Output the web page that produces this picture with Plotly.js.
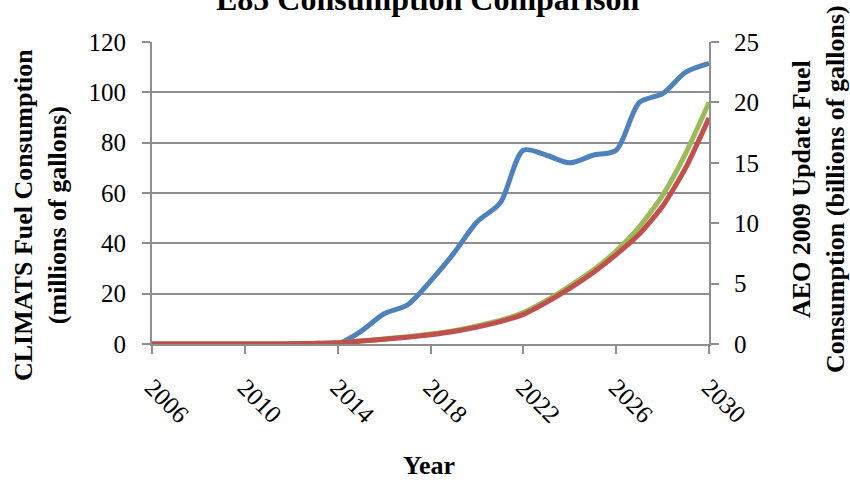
<!DOCTYPE html>
<html>
<head>
<meta charset="utf-8">
<script src="https://cdn.plot.ly/plotly-3.0.1.min.js"></script>
<style>html,body{margin:0;padding:0;background:#fff;}#chart{width:850px;height:482px;}</style>
</head>
<body>
<div id="chart"></div>
<script>
const years = [2006,2007,2008,2009,2010,2011,2012,2013,2014,2015,2016,2017,2018,2019,2020,2021,2022,2023,2024,2025,2026,2027,2028,2029,2030];
const climats = [0,0,0,0,0,0,0,0,0,5,12,15.5,25,36,48.5,56,77,75,72,75,77,96,99.5,108,111.5];
const aeoGreen = [0,0,0,0,0,0,0.02,0.05,0.1,0.25,0.42,0.6,0.82,1.1,1.5,1.95,2.6,3.6,4.8,6.1,7.7,9.7,12.3,15.8,20.0];
const aeoRed = [0,0,0,0,0,0,0.02,0.05,0.1,0.24,0.4,0.56,0.76,1.03,1.4,1.85,2.45,3.45,4.6,5.9,7.4,9.1,11.4,14.6,18.7];
const tickYears = [2006,2010,2014,2018,2022,2026,2030];

const chartTitle = 'E85 Consumption Comparison';
const xTitle = 'Year';
const yTitle = 'CLIMATS Fuel Consumption<br>(millions of gallons)';
const y2Title = 'AEO 2009 Update Fuel<br>Consumption (billions of gallons)';

const serif = "Liberation Serif, Times New Roman, serif";
const grid = "#8f8f8f";

const traces = [
  {x: years, y: aeoGreen, yaxis: 'y2', type: 'scatter', mode: 'lines', name: 'AEO 2009 (high)',
   line: {color: '#9BBB59', width: 5, shape: 'spline', smoothing: 0.6}},
  {x: years, y: aeoRed, yaxis: 'y2', type: 'scatter', mode: 'lines', name: 'AEO 2009',
   line: {color: '#C0504D', width: 5, shape: 'spline', smoothing: 0.6}},
  {x: years, y: climats, yaxis: 'y', type: 'scatter', mode: 'lines', name: 'CLIMATS',
   line: {color: '#4F81BD', width: 5, shape: 'spline', smoothing: 0.8}}
];

const layout = {
  width: 850, height: 482,
  margin: {l: 152, r: 141, t: 42, b: 138},
  paper_bgcolor: '#fff', plot_bgcolor: '#fff',
  showlegend: false,
  font: {family: serif, size: 25, color: '#000'},
  xaxis: {
    range: [2006, 2030], tickvals: tickYears, ticktext: tickYears.map(String),
    tickangle: 45, ticks: 'outside', ticklen: 8, tickwidth: 2, tickcolor: grid,
    showline: true, linecolor: grid, linewidth: 2, showgrid: false, zeroline: false,
    ticklabelstandoff: 9,
    tickfont: {family: serif, size: 25},
    automargin: false
  },
  yaxis: {
    range: [0, 120], dtick: 20, ticks: 'outside', ticklen: 8, tickwidth: 2, tickcolor: grid,
    showline: true, linecolor: grid, linewidth: 2, showgrid: true, gridcolor: grid, gridwidth: 2,
    zeroline: false, tickfont: {family: serif, size: 25}, ticklabelstandoff: 11,
    automargin: false
  },
  yaxis2: {
    range: [0, 25], dtick: 5, overlaying: 'y', side: 'right',
    ticks: 'outside', ticklen: 8, tickwidth: 2, tickcolor: grid,
    showline: true, linecolor: grid, linewidth: 2, showgrid: false, zeroline: false,
    tickfont: {family: serif, size: 25}, ticklabelstandoff: 10,
    automargin: false
  },
  annotations: [
    {text: '<b>' + chartTitle + '</b>', xref: 'paper', yref: 'paper', x: 0.4946, y: 1,
     xanchor: 'center', yanchor: 'middle', yshift: 43, showarrow: false,
     font: {family: serif, size: 32, color: '#000'}},
    {text: '<b>' + xTitle + '</b>', xref: 'paper', yref: 'paper', x: 0.497, y: 0,
     xanchor: 'center', yanchor: 'middle', yshift: -121, showarrow: false,
     font: {family: serif, size: 26, color: '#000'}},
    {text: '<b>' + yTitle + '</b>', xref: 'paper', yref: 'paper', x: 0, y: 0.5,
     xanchor: 'center', yanchor: 'middle', xshift: -112, yshift: -22, textangle: -90, showarrow: false,
     font: {family: serif, size: 26, color: '#000'}},
    {text: '<b>' + y2Title + '</b>', xref: 'paper', yref: 'paper', x: 1, y: 0.5,
     xanchor: 'center', yanchor: 'middle', xshift: 109, yshift: 4, textangle: -90, showarrow: false,
     font: {family: serif, size: 26, color: '#000'}}
  ]
};

Plotly.newPlot('chart', traces, layout, {staticPlot: true});
</script>
</body>
</html>
